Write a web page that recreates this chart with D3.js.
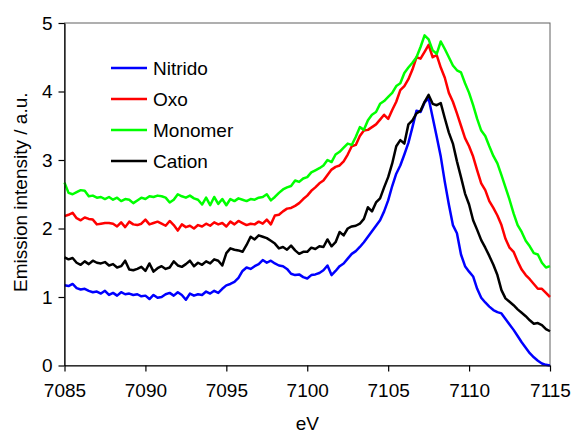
<!DOCTYPE html>
<html>
<head>
<meta charset="utf-8">
<script src="https://cdn.jsdelivr.net/npm/d3@7"></script>
<style>
  body { margin: 0; background: #fff; }
  text { font-family: "Liberation Sans", Arial, sans-serif; }
</style>
</head>
<body>
<div id="chart"></div>
<script>
// energy grid: 7085 .. 7115 eV in 0.25 eV steps
var eStart = 7085, eStep = 0.25;

var nitrido = [
  1.17, 1.16, 1.19, 1.13, 1.11, 1.12, 1.09, 1.07, 1.08, 1.05, 1.09, 1.03,
  1.06, 1.02, 1.07, 1.04, 1.05, 1.03, 1.04, 1.01, 1.02, 0.97, 1.03, 0.99,
  1.00, 1.04, 1.06, 1.02, 1.07, 1.03, 0.96, 1.05, 1.02, 1.04, 1.03, 1.08,
  1.05, 1.09, 1.06, 1.12, 1.17, 1.19, 1.22, 1.28, 1.38, 1.43, 1.41, 1.45,
  1.48, 1.54, 1.50, 1.53, 1.49, 1.46, 1.45, 1.41, 1.34, 1.32, 1.33, 1.29,
  1.27, 1.32, 1.33, 1.35, 1.39, 1.46, 1.32, 1.38, 1.45, 1.49, 1.56, 1.63,
  1.67, 1.73, 1.80, 1.88, 1.96, 2.04, 2.12, 2.25, 2.41, 2.62, 2.80, 2.92,
  3.08, 3.25, 3.48, 3.72, 3.70, 3.84, 3.90, 3.62, 3.34, 3.05, 2.68, 2.35,
  2.05, 1.93, 1.62, 1.45, 1.37, 1.30, 1.12, 0.99, 0.92, 0.86, 0.81, 0.78,
  0.76, 0.68, 0.60, 0.52, 0.43, 0.34, 0.26, 0.18, 0.12, 0.07, 0.03, 0.01,
  0.00
];

var oxo = [
  2.18, 2.20, 2.23, 2.15, 2.12, 2.16, 2.14, 2.13, 2.06, 2.07, 2.08, 2.08,
  2.07, 2.03, 2.09, 2.02, 2.10, 2.06, 2.05, 2.07, 2.13, 2.06, 2.08, 2.10,
  2.07, 2.04, 2.11, 2.05, 1.97, 2.06, 2.02, 2.04, 2.00, 2.05, 2.03, 2.07,
  2.04, 2.09, 2.06, 2.08, 2.03, 2.10, 2.06, 2.11, 2.08, 2.05, 2.07, 2.06,
  2.10, 2.07, 2.13, 2.06, 2.19, 2.20, 2.25, 2.29, 2.30, 2.33, 2.37, 2.43,
  2.48, 2.55, 2.60, 2.66, 2.70, 2.78, 2.86, 2.90, 2.92, 2.98, 3.08, 3.20,
  3.22, 3.35, 3.43, 3.44, 3.48, 3.52, 3.59, 3.66, 3.60, 3.73, 3.85, 4.02,
  4.08, 4.18, 4.32, 4.50, 4.48, 4.58, 4.68, 4.50, 4.53, 4.35, 4.20, 3.98,
  3.85, 3.68, 3.50, 3.32, 3.20, 3.05, 2.85, 2.66, 2.56, 2.40, 2.30, 2.19,
  2.05, 1.85, 1.72, 1.66, 1.52, 1.40, 1.32, 1.26, 1.19, 1.12, 1.12, 1.06,
  1.00
];

var monomer = [
  2.67, 2.52, 2.50, 2.53, 2.56, 2.55, 2.47, 2.48, 2.45, 2.46, 2.43, 2.46,
  2.42, 2.45, 2.40, 2.43, 2.42, 2.37, 2.41, 2.45, 2.43, 2.47, 2.46, 2.48,
  2.47, 2.45, 2.38, 2.42, 2.50, 2.47, 2.45, 2.48, 2.44, 2.42, 2.35, 2.45,
  2.34, 2.46, 2.36, 2.43, 2.34, 2.43, 2.40, 2.44, 2.42, 2.40, 2.43, 2.42,
  2.45, 2.46, 2.50, 2.41, 2.46, 2.52, 2.57, 2.60, 2.62, 2.70, 2.68, 2.73,
  2.75, 2.82, 2.85, 2.88, 2.92, 3.00, 2.97, 3.08, 3.12, 3.18, 3.24, 3.22,
  3.34, 3.48, 3.44, 3.58, 3.66, 3.70, 3.82, 3.86, 3.92, 3.98, 4.08, 4.12,
  4.27, 4.35, 4.42, 4.50, 4.65, 4.82, 4.76, 4.60, 4.55, 4.73, 4.62, 4.50,
  4.38, 4.31, 4.28, 4.12, 3.98, 3.80, 3.60, 3.43, 3.35, 3.20, 3.06, 2.95,
  2.78, 2.60, 2.42, 2.22, 2.05, 1.95, 1.82, 1.74, 1.64, 1.62, 1.50, 1.43,
  1.45
];

var cation = [
  1.58, 1.55, 1.57, 1.50, 1.47, 1.52, 1.48, 1.53, 1.50, 1.49, 1.51, 1.46,
  1.48, 1.43, 1.45, 1.53, 1.40, 1.39, 1.41, 1.44, 1.38, 1.49, 1.37, 1.42,
  1.45, 1.41, 1.43, 1.52, 1.46, 1.44, 1.48, 1.53, 1.45, 1.50, 1.47, 1.52,
  1.49, 1.55, 1.53, 1.46, 1.64, 1.71, 1.69, 1.68, 1.66, 1.76, 1.88, 1.84,
  1.90, 1.88, 1.86, 1.82, 1.78, 1.71, 1.73, 1.69, 1.75, 1.68, 1.63, 1.66,
  1.66, 1.72, 1.70, 1.74, 1.73, 1.84, 1.74, 1.80, 1.95, 1.90, 2.00, 2.03,
  2.04, 2.07, 2.14, 2.31, 2.25, 2.38, 2.44, 2.60, 2.75, 2.95, 3.20, 3.29,
  3.24, 3.52, 3.58, 3.68, 3.72, 3.85, 3.95, 3.82, 3.80, 3.83, 3.61, 3.40,
  3.24, 2.98, 2.75, 2.51, 2.35, 2.12, 1.98, 1.83, 1.72, 1.60, 1.47, 1.32,
  1.10, 0.98, 0.93, 0.88, 0.82, 0.77, 0.72, 0.66, 0.61, 0.62, 0.59, 0.53,
  0.50
];

var seriesNames = ["Nitrido", "Oxo", "Monomer", "Cation"];
var seriesColors = ["#0000ff", "#ff0000", "#00ff00", "#000000"];
var seriesData = [nitrido, oxo, monomer, cation];

var xTicks = [7085, 7090, 7095, 7100, 7105, 7110, 7115];
var yTicks = [0, 1, 2, 3, 4, 5];

var W = 573, H = 433;
var margin = { top: 23, right: 23, bottom: 68, left: 64.5 };

var svg = d3.select("#chart").append("svg")
    .attr("width", W)
    .attr("height", H);

var x = d3.scaleLinear()
    .domain([7085, 7115])
    .range([margin.left, W - margin.right]);

var y = d3.scaleLinear()
    .domain([0, 5])
    .range([H - margin.bottom + 0.5, margin.top]);

// frame (top/right)
svg.append("rect")
    .attr("x", x(7085))
    .attr("y", y(5))
    .attr("width", x(7115) - x(7085))
    .attr("height", y(0) - y(5))
    .attr("fill", "none")
    .attr("stroke", "#606060")
    .attr("stroke-width", 1);

// lines
var line = d3.line()
    .x(function (d, i) { return x(eStart + i * eStep); })
    .y(function (d) { return y(d); });

seriesData.forEach(function (s, i) {
    svg.append("path")
        .datum(s)
        .attr("d", line)
        .attr("fill", "none")
        .attr("stroke", seriesColors[i])
        .attr("stroke-width", 2.5)
        .attr("stroke-linejoin", "round");
});

// axes
var xAxis = svg.append("g")
    .attr("transform", "translate(0," + y(0) + ")")
    .call(d3.axisBottom(x).tickValues(xTicks).tickFormat(d3.format("d"))
        .tickSize(6).tickSizeOuter(0).tickPadding(12));

var yAxis = svg.append("g")
    .attr("transform", "translate(" + x(7085) + ",0)")
    .call(d3.axisLeft(y).tickValues(yTicks).tickFormat(d3.format("d"))
        .tickSize(6).tickSizeOuter(0).tickPadding(6));

[xAxis, yAxis].forEach(function (g) {
    g.selectAll("path, line").attr("stroke", "#000").attr("stroke-width", 1.2);
    g.selectAll("text")
        .attr("fill", "#000")
        .style("font-size", "19px")
        .style("font-family", "'Liberation Sans', Arial, sans-serif");
});

// axis titles
svg.append("text")
    .attr("x", (x(7085) + x(7115)) / 2)
    .attr("y", 430)
    .attr("text-anchor", "middle")
    .style("font-size", "19px")
    .text("eV");

svg.append("text")
    .attr("transform", "translate(27," + (y(2.5) - 2) + ") rotate(-90)")
    .attr("text-anchor", "middle")
    .style("font-size", "19px")
    .text("Emission intensity / a.u.");

// legend
var legend = svg.append("g").attr("transform", "translate(111,68)");
seriesNames.forEach(function (name, i) {
    var g = legend.append("g").attr("transform", "translate(0," + (i * 31) + ")");
    g.append("line")
        .attr("x1", 0).attr("x2", 36)
        .attr("y1", 0).attr("y2", 0)
        .attr("stroke", seriesColors[i])
        .attr("stroke-width", 2.5);
    g.append("text")
        .attr("x", 42)
        .attr("y", 7)
        .style("font-size", "19px")
        .text(name);
});
</script>
</body>
</html>
